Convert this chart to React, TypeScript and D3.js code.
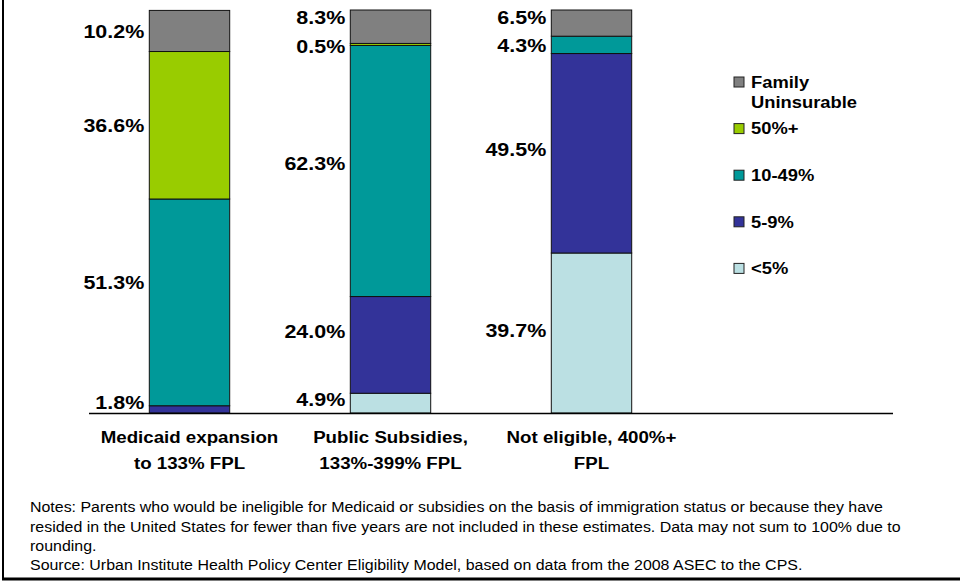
import React from "react";
import * as d3 from "d3";

// ---------- data ----------
const categories = ["Medicaid expansion|to 133% FPL", "Public Subsidies,|133%-399% FPL", "Not eligible, 400%+|FPL"];
const seriesNames = ["<5%", "5-9%", "10-49%", "50%+", "Family Uninsurable"];
const under5 = [0, 4.9, 39.7];
const from5to9 = [1.8, 24.0, 49.5];
const from10to49 = [51.3, 62.3, 4.3];
const over50 = [36.6, 0.5, 0];
const familyUninsurable = [10.2, 8.3, 6.5];
const notes = [
  "Notes: Parents who would be ineligible for Medicaid or subsidies on the basis of immigration status or because they have",
  "resided in the United States for fewer than five years are not included in these estimates. Data may not sum to 100% due to",
  "rounding.",
  "Source: Urban Institute Health Policy Center Eligibility Model, based on data from the 2008 ASEC to the CPS.",
];

// ---------- styles / layout ----------
const colors = ["#BBE0E3", "#333399", "#009999", "#99CC00", "#808080"];
const W = 960, H = 581;
const FONT = "'Liberation Sans', Arial, Helvetica, sans-serif";
// label offsets (px) relative to segment middle, keyed "cat-series"
const labelNudge: Record<string, number> = {
  "0-1": -7, "0-2": -20,
  "1-0": -4, "1-1": -13, "1-2": -8, "1-3": 1.5, "1-4": -9,
  "2-0": -3, "2-1": -4, "2-2": 1, "2-4": -6,
};

function SText({ x, y, anchor = "start", size, weight = "bold", sx = 1.1, children }: any) {
  return (
    <text
      transform={`translate(${x},${y}) scale(${sx},1)`}
      textAnchor={anchor}
      dominantBaseline="central"
      fontFamily={FONT}
      fontSize={size}
      fontWeight={weight}
      fill="#000"
    >
      {children}
    </text>
  );
}

export default function App() {
  const seriesValues = [under5, from5to9, from10to49, over50, familyUninsurable];
  const table = categories.map((c, i) => {
    const row: any = { cat: c };
    seriesNames.forEach((s, j) => (row[s] = seriesValues[j][i]));
    return row;
  });
  const stacked = d3.stack().keys(seriesNames)(table);

  const x = d3
    .scaleBand()
    .domain([...categories, "__empty"])
    .range([89, 893])
    .paddingInner(0.6)
    .paddingOuter(0.3);
  const y = d3.scaleLinear().domain([0, 100]).range([413, 10]);
  const bw = x.bandwidth();

  return (
    <svg width={W} height={H} style={{ position: "absolute", left: 0, top: 0, background: "#fff" }}>
      <rect x={0} y={0} width={W} height={H} fill="#fff" />
      {/* bars */}
      {stacked.map((layer, j) =>
        layer.map((d, i) => {
          const v = d[1] - d[0];
          if (v <= 0) return null;
          const x0 = x(categories[i])!;
          return (
            <rect
              key={`${j}-${i}`}
              x={x0}
              y={y(d[1])}
              width={bw}
              height={y(d[0]) - y(d[1])}
              fill={colors[j]}
              stroke="#111"
              strokeWidth={1}
            />
          );
        })
      )}
      {/* value labels */}
      {stacked.map((layer, j) =>
        layer.map((d, i) => {
          const v = d[1] - d[0];
          if (v <= 0) return null;
          const x0 = x(categories[i])!;
          const mid = (y(d[0]) + y(d[1])) / 2 + (labelNudge[`${i}-${j}`] || 0);
          return (
            <SText key={`l${j}-${i}`} x={x0 - 5} y={mid} anchor="end" size={19} sx={1.13}>
              {v.toFixed(1)}%
            </SText>
          );
        })
      )}
      {/* baseline */}
      <line x1={89} x2={893} y1={413.5} y2={413.5} stroke="#000" strokeWidth={1.5} />
      {/* category labels */}
      {categories.map((c) => {
        const cx = x(c)! + bw / 2;
        return c.split("|").map((line, k) => (
          <SText key={c + k} x={cx} y={437 + k * 26} anchor="middle" size={17} sx={1.1}>
            {line}
          </SText>
        ));
      })}
      {/* legend */}
      {seriesNames
        .map((s, j) => ({ s, j }))
        .reverse()
        .map(({ s, j }, k) => {
          const cy = 82 + k * 46.6;
          const lines = s === "Family Uninsurable" ? ["Family", "Uninsurable"] : [s];
          return (
            <g key={s}>
              <rect x={734} y={cy - 5} width={10} height={10} fill={colors[j]} stroke="#222" strokeWidth={1} />
              {lines.map((ln, li) => (
                <SText key={ln} x={751} y={cy + li * 20.7} size={17} sx={1.08}>
                  {ln}
                </SText>
              ))}
            </g>
          );
        })}
      {/* notes */}
      {notes.map((n, k) => (
        <SText key={k} x={30} y={[506.7, 526.7, 546, 564.3][k]} size={15} weight="normal" sx={1.063}>
          {n}
        </SText>
      ))}
      {/* frame */}
      <line x1={3} x2={3} y1={0} y2={579} stroke="#000" strokeWidth={2} />
      <line x1={2} x2={W} y1={579} y2={579} stroke="#000" strokeWidth={3} />
    </svg>
  );
}
